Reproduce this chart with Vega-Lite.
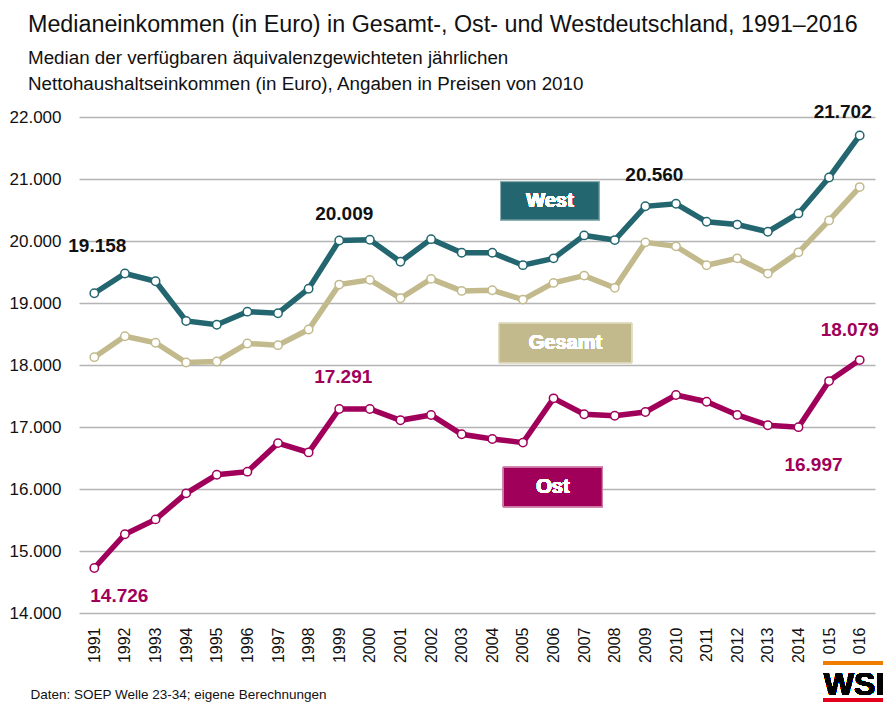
{
  "$schema": "https://vega.github.io/schema/vega-lite/v6.json",
  "autosize": "none",
  "width": 796,
  "height": 496,
  "padding": {"left": 79, "top": 117, "right": 8, "bottom": 89},
  "background": "white",
  "config": {
    "font": "Liberation Sans, Arial, sans-serif",
    "view": {"stroke": null},
    "locale": {"number": {"decimal": ",", "thousands": ".", "grouping": [3], "currency": ["", " €"]}}
  },
  "title": {
    "text": "Medianeinkommen (in Euro) in Gesamt-, Ost- und Westdeutschland, 1991–2016",
    "subtitle": ["Median der verfügbaren äquivalenzgewichteten jährlichen", "Nettohaushaltseinkommen (in Euro), Angaben in Preisen von 2010"],
    "anchor": "start",
    "frame": "group",
    "dx": -51,
    "fontSize": 23.3,
    "fontWeight": "normal",
    "color": "#111111",
    "subtitleFontSize": 18.8,
    "subtitleColor": "#111111",
    "subtitleLineHeight": 26,
    "subtitlePadding": 11,
    "offset": 9
  },
  "datasets": {
    "income": [
      {"year": 1991, "region": "West", "value": 19158},
      {"year": 1992, "region": "West", "value": 19475},
      {"year": 1993, "region": "West", "value": 19350},
      {"year": 1994, "region": "West", "value": 18710},
      {"year": 1995, "region": "West", "value": 18650},
      {"year": 1996, "region": "West", "value": 18860},
      {"year": 1997, "region": "West", "value": 18835},
      {"year": 1998, "region": "West", "value": 19230},
      {"year": 1999, "region": "West", "value": 20009},
      {"year": 2000, "region": "West", "value": 20020},
      {"year": 2001, "region": "West", "value": 19665},
      {"year": 2002, "region": "West", "value": 20030},
      {"year": 2003, "region": "West", "value": 19810},
      {"year": 2004, "region": "West", "value": 19810},
      {"year": 2005, "region": "West", "value": 19610},
      {"year": 2006, "region": "West", "value": 19720},
      {"year": 2007, "region": "West", "value": 20090},
      {"year": 2008, "region": "West", "value": 20015},
      {"year": 2009, "region": "West", "value": 20560},
      {"year": 2010, "region": "West", "value": 20600},
      {"year": 2011, "region": "West", "value": 20310},
      {"year": 2012, "region": "West", "value": 20265},
      {"year": 2013, "region": "West", "value": 20150},
      {"year": 2014, "region": "West", "value": 20445},
      {"year": 2015, "region": "West", "value": 21025},
      {"year": 2016, "region": "West", "value": 21702},
      {"year": 1991, "region": "Gesamt", "value": 18126},
      {"year": 1992, "region": "Gesamt", "value": 18464},
      {"year": 1993, "region": "Gesamt", "value": 18358},
      {"year": 1994, "region": "Gesamt", "value": 18040},
      {"year": 1995, "region": "Gesamt", "value": 18057},
      {"year": 1996, "region": "Gesamt", "value": 18347},
      {"year": 1997, "region": "Gesamt", "value": 18320},
      {"year": 1998, "region": "Gesamt", "value": 18572},
      {"year": 1999, "region": "Gesamt", "value": 19297},
      {"year": 2000, "region": "Gesamt", "value": 19373},
      {"year": 2001, "region": "Gesamt", "value": 19076},
      {"year": 2002, "region": "Gesamt", "value": 19389},
      {"year": 2003, "region": "Gesamt", "value": 19195},
      {"year": 2004, "region": "Gesamt", "value": 19205},
      {"year": 2005, "region": "Gesamt", "value": 19055},
      {"year": 2006, "region": "Gesamt", "value": 19324},
      {"year": 2007, "region": "Gesamt", "value": 19442},
      {"year": 2008, "region": "Gesamt", "value": 19244},
      {"year": 2009, "region": "Gesamt", "value": 19978},
      {"year": 2010, "region": "Gesamt", "value": 19914},
      {"year": 2011, "region": "Gesamt", "value": 19608},
      {"year": 2012, "region": "Gesamt", "value": 19720},
      {"year": 2013, "region": "Gesamt", "value": 19474},
      {"year": 2014, "region": "Gesamt", "value": 19817},
      {"year": 2015, "region": "Gesamt", "value": 20332},
      {"year": 2016, "region": "Gesamt", "value": 20870},
      {"year": 1991, "region": "Ost", "value": 14726},
      {"year": 1992, "region": "Ost", "value": 15270},
      {"year": 1993, "region": "Ost", "value": 15510},
      {"year": 1994, "region": "Ost", "value": 15930},
      {"year": 1995, "region": "Ost", "value": 16230},
      {"year": 1996, "region": "Ost", "value": 16280},
      {"year": 1997, "region": "Ost", "value": 16740},
      {"year": 1998, "region": "Ost", "value": 16590},
      {"year": 1999, "region": "Ost", "value": 17291},
      {"year": 2000, "region": "Ost", "value": 17290},
      {"year": 2001, "region": "Ost", "value": 17108},
      {"year": 2002, "region": "Ost", "value": 17194},
      {"year": 2003, "region": "Ost", "value": 16883},
      {"year": 2004, "region": "Ost", "value": 16807},
      {"year": 2005, "region": "Ost", "value": 16748},
      {"year": 2006, "region": "Ost", "value": 17462},
      {"year": 2007, "region": "Ost", "value": 17205},
      {"year": 2008, "region": "Ost", "value": 17182},
      {"year": 2009, "region": "Ost", "value": 17242},
      {"year": 2010, "region": "Ost", "value": 17516},
      {"year": 2011, "region": "Ost", "value": 17408},
      {"year": 2012, "region": "Ost", "value": 17194},
      {"year": 2013, "region": "Ost", "value": 17028},
      {"year": 2014, "region": "Ost", "value": 16997},
      {"year": 2015, "region": "Ost", "value": 17741},
      {"year": 2016, "region": "Ost", "value": 18079}
    ]
  },
  "data": {"name": "income"},
  "encoding": {
    "x": {
      "field": "year", "type": "quantitative",
      "scale": {"domain": [1990.5, 2016.5], "nice": false, "zero": false},
      "axis": {
        "values": [1991,1992,1993,1994,1995,1996,1997,1998,1999,2000,2001,2002,2003,2004,2005,2006,2007,2008,2009,2010,2011,2012,2013,2014,2015,2016],
        "format": "d", "labelAngle": -90, "grid": false, "domain": false, "ticks": false,
        "labelPadding": 14, "labelFontSize": 16, "labelColor": "#111111", "labelFlush": false, "labelOverlap": false,
        "title": "Daten: SOEP Welle 23-34; eigene Berechnungen",
        "titleFontSize": 13.5, "titleFontWeight": "normal", "titleColor": "#111111",
        "titleAlign": "left", "titleAnchor": "start", "titleBaseline": "alphabetic",
        "titleX": -49, "titleY": 85
      }
    },
    "y": {
      "field": "value", "type": "quantitative",
      "scale": {"domain": [14000, 22000], "nice": false, "zero": false},
      "axis": {
        "values": [14000,15000,16000,17000,18000,19000,20000,21000,22000],
        "format": ",d", "grid": true, "gridColor": "#b4b4b4", "gridWidth": 1.5,
        "domain": false, "ticks": false, "labelPadding": 18, "labelFontSize": 17,
        "labelColor": "#111111", "title": null
      }
    },
    "color": {
      "field": "region", "type": "nominal",
      "scale": {"domain": ["West", "Gesamt", "Ost"], "range": ["#23666f", "#c2ba8c", "#a0005a"]},
      "legend": null
    }
  },
  "layer": [
    {"mark": {"type": "line", "strokeWidth": 5.5}},
    {"mark": {"type": "point", "filled": false, "fill": "white", "fillOpacity": 1, "strokeWidth": 1.5, "size": 70, "opacity": 1}},
    {
      "mark": {"type": "rect", "stroke": "#8fb0b4", "strokeWidth": 1, "fill": "#23666f"},
      "encoding": {"x": {"datum": 2004.27}, "x2": {"datum": 2007.49}, "y": {"datum": 20957}, "y2": {"datum": 20339}, "color": null}
    },
    {
      "mark": {"type": "rect", "stroke": "#e0dcc4", "strokeWidth": 1, "fill": "#c2ba8c"},
      "encoding": {"x": {"datum": 2004.22}, "x2": {"datum": 2008.55}, "y": {"datum": 18673}, "y2": {"datum": 18037}, "color": null}
    },
    {
      "mark": {"type": "rect", "stroke": "#d08aae", "strokeWidth": 1, "fill": "#a0005a"},
      "encoding": {"x": {"datum": 2004.36}, "x2": {"datum": 2007.59}, "y": {"datum": 16350}, "y2": {"datum": 15715}, "color": null}
    },
    {
      "mark": {"type": "text", "text": "West", "fontWeight": "bold", "fontSize": 20, "fill": "white", "align": "center", "baseline": "middle"},
      "encoding": {"x": {"datum": 2005.88}, "y": {"datum": 20645}, "color": null}
    },
    {
      "mark": {"type": "text", "text": "Gesamt", "fontWeight": "bold", "fontSize": 20, "fill": "white", "align": "center", "baseline": "middle"},
      "encoding": {"x": {"datum": 2006.39}, "y": {"datum": 18355}, "color": null}
    },
    {
      "mark": {"type": "text", "text": "Ost", "fontWeight": "bold", "fontSize": 20, "fill": "white", "align": "center", "baseline": "middle"},
      "encoding": {"x": {"datum": 2005.98}, "y": {"datum": 16032}, "color": null}
    },
    {
      "transform": [{"filter": "datum.region == 'West' && datum.year == 1991"}],
      "mark": {"type": "text", "fontSize": 19, "fontWeight": "bold", "fill": "#111111", "dx": 3, "dy": -47, "baseline": "middle"},
      "encoding": {"text": {"field": "value", "format": ",d"}, "color": null}
    },
    {
      "transform": [{"filter": "datum.region == 'West' && datum.year == 1999"}],
      "mark": {"type": "text", "fontSize": 19, "fontWeight": "bold", "fill": "#111111", "dx": 5, "dy": -26, "baseline": "middle"},
      "encoding": {"text": {"field": "value", "format": ",d"}, "color": null}
    },
    {
      "transform": [{"filter": "datum.region == 'West' && datum.year == 2009"}],
      "mark": {"type": "text", "fontSize": 19, "fontWeight": "bold", "fill": "#111111", "dx": 9, "dy": -31, "baseline": "middle"},
      "encoding": {"text": {"field": "value", "format": ",d"}, "color": null}
    },
    {
      "transform": [{"filter": "datum.region == 'West' && datum.year == 2016"}],
      "mark": {"type": "text", "fontSize": 19, "fontWeight": "bold", "fill": "#111111", "dx": -17, "dy": -23, "baseline": "middle"},
      "encoding": {"text": {"field": "value", "format": ",d"}, "color": null}
    },
    {
      "transform": [{"filter": "datum.region == 'Ost' && datum.year == 1991"}],
      "mark": {"type": "text", "fontSize": 19, "fontWeight": "bold", "fill": "#a0005a", "dx": 25, "dy": 28, "baseline": "middle"},
      "encoding": {"text": {"field": "value", "format": ",d"}, "color": null}
    },
    {
      "transform": [{"filter": "datum.region == 'Ost' && datum.year == 1999"}],
      "mark": {"type": "text", "fontSize": 19, "fontWeight": "bold", "fill": "#a0005a", "dx": 4, "dy": -32, "baseline": "middle"},
      "encoding": {"text": {"field": "value", "format": ",d"}, "color": null}
    },
    {
      "transform": [{"filter": "datum.region == 'Ost' && datum.year == 2014"}],
      "mark": {"type": "text", "fontSize": 19, "fontWeight": "bold", "fill": "#a0005a", "dx": 15, "dy": 38, "baseline": "middle"},
      "encoding": {"text": {"field": "value", "format": ",d"}, "color": null}
    },
    {
      "transform": [{"filter": "datum.region == 'Ost' && datum.year == 2016"}],
      "mark": {"type": "text", "fontSize": 19, "fontWeight": "bold", "fill": "#a0005a", "dx": -10, "dy": -30, "baseline": "middle"},
      "encoding": {"text": {"field": "value", "format": ",d"}, "color": null}
    },
    {
      "mark": {"type": "rect", "fill": "white", "clip": false},
      "encoding": {"x": {"datum": 2014.7}, "x2": {"datum": 2017.2}, "y": {"datum": 13310}, "y2": {"datum": 12400}, "color": null}
    },
    {
      "mark": {"type": "rule", "stroke": "#f07d00", "strokeWidth": 3.5},
      "encoding": {"x": {"datum": 2014.83}, "x2": {"datum": 2017.2}, "y": {"datum": 13197}, "color": null}
    },
    {
      "mark": {"type": "rule", "stroke": "#e3001b", "strokeWidth": 3.5},
      "encoding": {"x": {"datum": 2014.83}, "x2": {"datum": 2017.2}, "y": {"datum": 12598}, "color": null}
    },
    {
      "mark": {"type": "text", "text": "WSI", "fontWeight": "bold", "fontSize": 32, "fill": "#000000", "align": "left", "baseline": "alphabetic"},
      "encoding": {"x": {"datum": 2014.83}, "y": {"datum": 12673}, "color": null}
    }
  ]
}
